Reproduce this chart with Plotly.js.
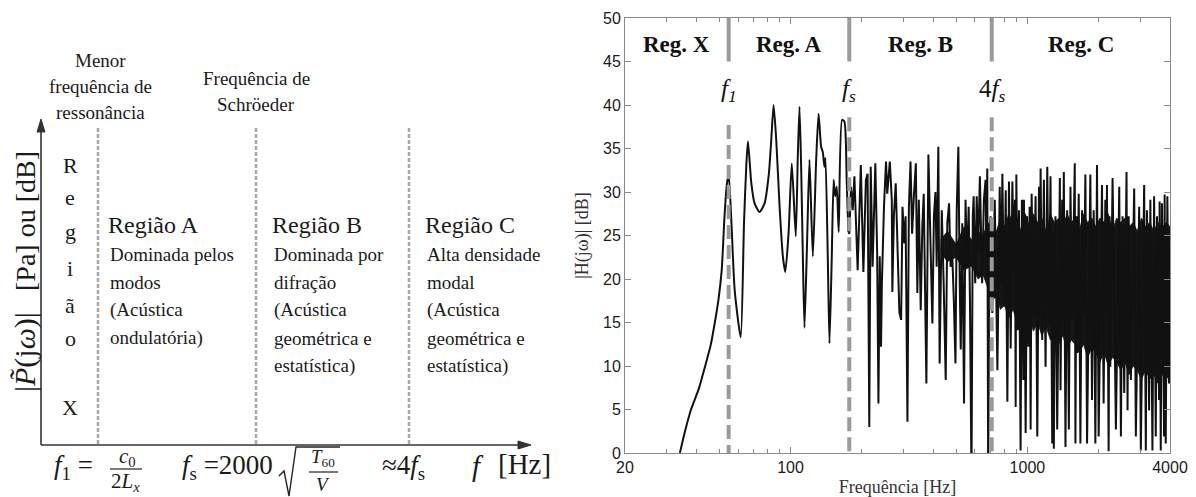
<!DOCTYPE html>
<html><head><meta charset="utf-8">
<script src="https://cdn.plot.ly/plotly-3.0.1.min.js"></script>
<style>html,body{margin:0;padding:0;background:#fff}#chart{width:1196px;height:497px}</style>
</head><body><div id="chart"></div>
<script>
// ---------- data (right panel) ----------
// modal region (Reg. X and Reg. A): frequency [Hz] and level [dB]
const hzModal = [34.1,35.8,38,41,43.6,46,47.9,49.6,51.2,52.7,53.9,54.8,56.3,58.1,61.6,63.6,65.1,66.1,68.3,70.5,74.0,77.7,81.0,82.9,84.8,87.0,89.9,92.8,95.0,98.1,101.2,105.2,107.3,109.1,111,112.7,114.5,117.5,120.2,124.2,128.3,131.3,134.6,136.8,139,140.4,143.6,146,149.3,152,154.2,156.7,159.7,165,168.8,172.6,175.4];
const dbModal = [0,2.45,5,7.4,10,12.4,15,17.6,21,27.5,31,32,26.4,18.7,13.3,26.4,33.3,35.8,31.0,28.7,27.7,28.7,32.1,36.0,40.0,36.0,28.3,22.6,20.8,25.3,33.3,24.9,34.1,39.8,32.1,22.6,14.4,24.5,33.7,22.6,33.7,39.0,35.2,34.6,32.9,33.9,22.6,12.6,22.6,31.4,29.5,30.6,25.4,38.3,38.1,31.4,25.4];
// diffraction region (Reg. B)
const hzDiffr = [177,180,183,186,192,198,203,208,211.5,215,218,222,228,232,235,238,241,243,248,253,256,262.5,267.6,269,273,278,283,288,293,297,302,306,311.5,316,321,326,331,338,343,348,354.5,360,365,374.5,382,391,397,403,409,414,420.7,426,435,443,452,459,467,474,481,489,497,503,511,518,523,531,540,548,557,565,572,580.6,588,593,602,611,620,630,644,655,666,672,677,683,692,699];
const dbDiffr = [25.2,30.6,27.9,31.8,21.0,33.1,20.8,31.4,32.1,3.0,32.9,21.4,33.3,23.3,5.7,22.6,12.2,19.5,28.3,33.5,29.8,33.5,29.1,18.5,27.2,31.0,23.3,16.2,15.3,28.3,24.1,27.2,3.6,28.3,33.5,25.2,29.1,33.3,18.4,29.1,16.4,26.0,29.8,8.0,34.3,23.3,14.9,27.2,30.0,21.4,35.2,10.3,27.9,19.5,8.4,26.4,28.7,21.4,23.3,17.6,10.3,27.9,35.2,19.5,11.9,26.4,5.7,29.1,21.4,28.3,17.6,-3,27.2,29.5,19.5,29.5,23.3,31.8,19.5,29.1,31.4,21.4,32.7,-3,25.2,27.2];
// high modal density region (Reg. C)
const hzDense = [711,728,747,764,774,784,797,810,823,836,850,864,878,886,892,898,910,921,936,948,961,967,983,997,1009,1022,1032,1042,1062,1083,1101,1119,1126,1137,1155,1174,1193,1213,1232,1252,1273,1286,1293,1314,1336,1371,1380,1402,1411,1425,1448,1472,1496,1520,1545,1585,1595,1611,1621,1647,1674,1701,1729,1757,1786,1844,1874,1905,1936,1967,1999,2065,2098,2133,2146,2167,2203,2223,2238,2289,2364,2442,2482,2522,2563,2621,2647,2677,2734,2824,2870,2964,3012,3111,3162,3198,3265,3304,3372,3427,3483,3525,3597,3616,3656,3699,3776,3796,3837,3899,3963,4000];
const dbDense = [16.1,29.1,9.5,30.6,19.5,32.1,16.8,30.2,5.9,31.2,12.0,31.2,20.7,29.1,5.3,32.0,14.1,27.9,0.3,29.1,8.4,29.1,2.3,27.2,12.2,28.3,2.7,29.8,15.7,29.5,1.9,30.6,15.5,32.7,13.0,31.4,9.9,32.9,14.9,31.8,1.1,25.2,0.5,27.2,2.7,31.6,7.2,29.1,15.7,32.3,0.7,27.9,2.7,30.6,15.3,33.3,1.1,27.2,11.5,29.8,1.1,27.9,15.5,32.0,1.1,32.0,6.1,27.9,1.1,33.1,1.9,30.8,5.7,29.1,16.1,30.8,0.2,27.2,9.9,31.6,2.7,30.6,1.9,27.2,6.9,32.3,4.9,27.2,8.4,30.4,1.9,28.3,0.3,30.8,0.3,27.9,4.9,29.1,0.3,29.5,1.9,27.2,6.1,28.9,0.3,28.7,1.9,29.7,1.1,29.5,8.0,24];
// ragged envelope of the densely packed (solid black) oscillations
const coreHz = [430,460,500,540,580,620,650,680,707,740,770,800,835,870,905,940,980,1020,1060,1105,1150,1200,1250,1300,1355,1410,1470,1530,1590,1655,1725,1795,1870,1945,2025,2110,2195,2285,2380,2480,2580,2685,2795,2910,3030,3155,3285,3420,3560,3705,3860,4000];
const coreTop = [24.5,25.5,24,26,24.5,25.5,25,26.5,26,25.5,27,26,27.5,26.5,27,25.5,27.5,26,27.5,26.5,27,25.5,27.5,26.5,27,26,27.5,26.5,27,25.5,27.5,26.5,27,26,27,26.5,27.5,25.5,27,26.5,27,26,26.5,25.5,27,26,26.5,25.5,26.5,26,26.5,26];
const coreBottom = [23,22,22.5,21,21.5,20,20.5,19,17.5,18,16.5,17,15.5,16.5,15,16,14.5,15.5,14,15,13.5,14.5,13,14,12.5,13.5,12,13,12.5,11.5,12.5,11,12,11.5,10.5,11.5,10,11,10.5,9.5,10.5,9,10,9.5,8.5,9.5,8.5,9,8,9,8.5,9];
// boundary frequencies f1, fs, 4fs
const boundaryHz = [54.8, 177, 707];
const boundaryLabels = ['<i>f</i><sub><i>1</i></sub>', '<i>f</i><sub><i>s</i></sub>', '4<i>f</i><sub><i>s</i></sub>'];
const regionNames = ['Reg. X', 'Reg. A', 'Reg. B', 'Reg. C'];
const xTickVals = [20, 100, 1000, 4000];
const xMinorVals = [30,40,50,60,70,80,90,200,300,400,500,600,700,800,900,2000,3000];
const yTickVals = [0,5,10,15,20,25,30,35,40,45,50];

// ---------- texts of the left (schematic) panel ----------
const headerLowest = ['Menor', 'frequência de', 'ressonância'];
const headerSchroeder = ['Frequência de', 'Schröeder'];
const regionXLetters = ['R', 'e', 'g', 'i', 'ã', 'o', 'X'];
const regionTitles = ['Região A', 'Região B', 'Região C'];
const regionLines = [
  ['Dominada pelos', 'modos', '(Acústica', 'ondulatória)'],
  ['Dominada por', 'difração', '(Acústica', 'geométrica e', 'estatística)'],
  ['Alta densidade', 'modal', '(Acústica', 'geométrica e', 'estatística)']
];

// ---------- layout helpers ----------
const W = 1196, H = 497;
const PX = x => x / W, PY = y => 1 - y / H;
const SERIF = 'Liberation Serif, Times New Roman, serif';
const INK = '#1a1a1a';
const annotations = [];
const shapes = [];
function note(x, y, text, size, xa, extra) {
  annotations.push(Object.assign({
    xref: 'paper', yref: 'paper', x: PX(x), y: PY(y), text: text, showarrow: false,
    xanchor: xa || 'center', yanchor: 'middle',
    font: {family: SERIF, size: size, color: INK}
  }, extra || {}));
}
function seg(x0, y0, x1, y1, color, width, dash) {
  shapes.push({type: 'line', xref: 'paper', yref: 'paper', x0: PX(x0), y0: PY(y0), x1: PX(x1), y1: PY(y1),
    line: {color: color, width: width, dash: dash || 'solid'}});
}
function poly(pts, color, fill, width) {
  shapes.push({type: 'path', xref: 'paper', yref: 'paper',
    path: pts.map((p, i) => (i ? 'L' : 'M') + PX(p[0]) + ',' + PY(p[1])).join(' ') + (fill ? ' Z' : ''),
    line: {color: color, width: width || 1.4}, fillcolor: fill || 'rgba(0,0,0,0)'});
}

// ---------- left schematic ----------
headerLowest.forEach((t, i) => note(100, 60 + 26 * i, t, 19));
headerSchroeder.forEach((t, i) => note(256, 78 + 27 * i, t, 19));
const letterY = [165, 198, 232, 268, 305, 338, 407];
regionXLetters.forEach((t, i) => note(70, letterY[i], t, 22));
const regionX0 = [106, 270, 423];
regionTitles.forEach((t, i) => note(regionX0[i], 225, t, 24, 'left'));
regionLines.forEach((lines, r) => lines.forEach((t, i) => note(regionX0[r] + 2, 254 + 28 * i, t, 19, 'left')));
// vertical axis label
note(25, 221, '[Pa] ou [dB]', 28, 'center', {textangle: -90});
note(25, 352, '|<i>P̃</i>(j<i>ω</i>)|', 30, 'center', {textangle: -90});
// axes with arrow heads
seg(41, 445, 41, 130, '#333', 1.6);
poly([[41, 119], [37, 132], [45, 132]], '#333', '#333', 1);
seg(41, 445, 519, 445, '#333', 1.6);
poly([[531, 445], [518, 441], [518, 449]], '#333', '#333', 1);
// dashed region boundaries
[98, 256, 409].forEach(x => seg(x, 128, x, 444, '#a8a8a8', 2.5, '4px,2px'));
// bottom formulas
note(52, 467, '<i>f</i><sub>1</sub> =', 27, 'left');
note(127, 457, '<i>c</i><sub>0</sub>', 21);
note(125, 482, '2<i>L<sub>x</sub></i>', 21);
seg(110, 469, 142, 469, '#222', 1.2);
note(180, 467, '<i>f</i><sub>s</sub> =2000', 27, 'left');
poly([[279, 476], [284, 471], [289, 496], [296, 447], [340, 447]], '#222', null, 1.4);
note(323, 458, '<i>T</i><sub>60</sub>', 19);
note(323, 484, '<i>V</i>', 19);
seg(309, 472, 338, 472, '#222', 1.2);
note(380, 467, '≈4<i>f</i><sub>s</sub>', 27, 'left');
note(478, 466, '<i>f</i>', 29);
note(496, 464, '[Hz]', 29, 'left');

// ---------- right panel annotations ----------
const lg = Math.log10;
const edges = [20].concat(boundaryHz, [4000]);
regionNames.forEach((t, i) => annotations.push({
  xref: 'x', yref: 'y', x: (lg(edges[i]) + lg(edges[i + 1])) / 2, y: 46.9, text: t,
  showarrow: false, font: {family: SERIF, size: 23, color: '#111', weight: 'bold'}
}));
boundaryHz.forEach((h, i) => annotations.push({
  xref: 'x', yref: 'y', x: lg(h), y: 41.7, text: boundaryLabels[i], showarrow: false,
  font: {family: SERIF, size: 25, color: '#111'}
}));

// ---------- traces ----------
const traces = [];
traces.push({
  x: coreHz.concat(coreHz.slice().reverse()), y: coreTop.concat(coreBottom.slice().reverse()),
  mode: 'lines', fill: 'toself', fillcolor: '#161616', line: {width: 0.8, color: '#161616'}, hoverinfo: 'skip'
});
traces.push({x: hzModal, y: dbModal, mode: 'lines', line: {color: '#111', width: 2, shape: 'spline', smoothing: 0.6}});
traces.push({
  x: [hzModal[hzModal.length - 1]].concat(hzDiffr, hzDense),
  y: [dbModal[dbModal.length - 1]].concat(dbDiffr, dbDense),
  mode: 'lines', line: {color: '#111', width: 2}
});
const gapTop = [37.7, 38.6, 38.6];
boundaryHz.forEach((h, i) => {
  traces.push({x: [h, h], y: [gapTop[i], 0], mode: 'lines', line: {color: '#9a9a9a', width: 4, dash: '14px,6px'}});
  traces.push({x: [h, h], y: [45, 50], mode: 'lines', line: {color: '#9a9a9a', width: 4}});
});

const axisCommon = {
  showline: true, linecolor: '#8a8a8a', linewidth: 1, mirror: 'ticks', ticks: 'inside',
  tickcolor: '#8a8a8a', ticklen: 6, showgrid: false, zeroline: false, automargin: false,
  tickfont: {family: 'Liberation Sans, Arial, sans-serif', size: 16, color: '#1a1a1a'}
};
const layout = {
  width: W, height: H, margin: {l: 0, r: 0, t: 0, b: 0},
  paper_bgcolor: '#fff', plot_bgcolor: 'rgba(0,0,0,0)', showlegend: false, hovermode: false,
  xaxis: Object.assign({}, axisCommon, {
    type: 'log', range: [lg(20), lg(4000)], domain: [625 / W, 1170 / W],
    tickmode: 'array', tickvals: xTickVals, ticktext: xTickVals.map(String),
    minor: {tickmode: 'array', tickvals: xMinorVals, ticks: 'inside', ticklen: 4, tickcolor: '#8a8a8a'},
    title: {text: 'Frequência [Hz]', standoff: 7, font: {family: SERIF, size: 18, color: '#333'}}
  }),
  yaxis: Object.assign({}, axisCommon, {
    range: [0, 50], domain: [1 - 453 / H, 1 - 18 / H],
    tickmode: 'array', tickvals: yTickVals, ticktext: yTickVals.map(String),
    title: {text: '|H(jω)| [dB]', standoff: 9, font: {family: SERIF, size: 18, color: '#333'}}
  }),
  annotations: annotations, shapes: shapes
};
Plotly.newPlot('chart', traces, layout, {displayModeBar: false, staticPlot: true});
</script></body></html>
